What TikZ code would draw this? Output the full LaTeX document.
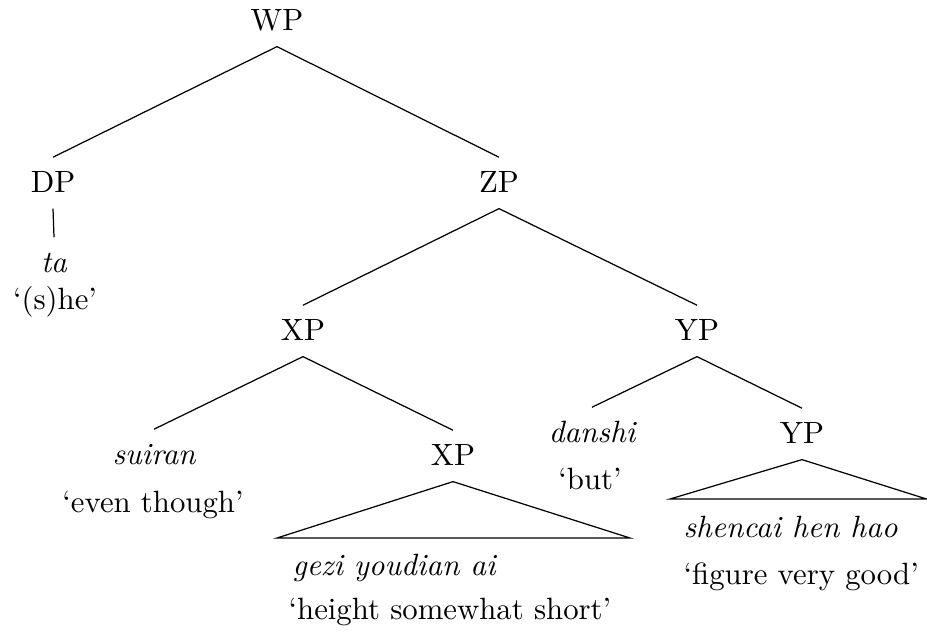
\documentclass[tikz,border=0pt]{standalone}
\begin{document}
\begin{tikzpicture}[x=0.325pt,y=-0.325pt,
  cat/.style={inner xsep=1pt, inner ysep=4.2pt, text height=6.9pt, text depth=1pt, anchor=base},
  word/.style={cat, font=\itshape},
  gloss/.style={inner sep=0pt, anchor=base},
  leftword/.style={inner sep=0pt, anchor=base west, font=\itshape},
  leftgloss/.style={inner sep=0pt, anchor=base west},
  branch/.style={line width=0.4pt}]
\useasboundingbox (0,0) rectangle (927,634);
% nodes
\node[cat] (WP) at (277,30) {WP};
\node[cat] (DP) at (53,192) {DP};
\node[cat] (ZP) at (499,192) {ZP};
\node[word] (ta) at (54,272) {ta};
\node[gloss] (she) at (55,309) {`(s)he'};
\node[cat] (XP) at (303,340) {XP};
\node[cat] (YP) at (697,340) {YP};
\node[word] (suiran) at (154,464) {suiran};
\node[gloss] (eventhough) at (153,512) {`even though'};
\node[cat] (XPl) at (453,465) {XP};
\node[word] (danshi) at (592,442) {danshi};
\node[gloss] (but) at (590,489) {`but'};
\node[cat] (YPl) at (802,443) {YP};
\node[leftword] (gezi) at (292,575) {gezi youdian ai};
\node[leftgloss] (height) at (288,619) {`height somewhat short'};
\node[leftword] (shencai) at (683,537) {shencai hen hao};
\node[leftgloss] (figure) at (683,584) {`figure very good'};
% triangle corners
\coordinate (XPtl) at (277,538);
\coordinate (XPtr) at (630,538);
\coordinate (YPtl) at (670,499);
\coordinate (YPtr) at (926.5,499);
% branches
\draw[branch] (WP.south) -- (DP.north);
\draw[branch] (WP.south) -- (ZP.north);
\draw[branch] (DP.south) -- (ta.north);
\draw[branch] (ZP.south) -- (XP.north);
\draw[branch] (ZP.south) -- (YP.north);
\draw[branch] (XP.south) -- (suiran.north);
\draw[branch] (XP.south) -- (XPl.north);
\draw[branch] (YP.south) -- (danshi.north);
\draw[branch] (YP.south) -- (YPl.north);
\draw[branch] (XPl.south) -- (XPtl) -- (XPtr) -- cycle;
\draw[branch] (YPl.south) -- (YPtl) -- (YPtr) -- cycle;
\end{tikzpicture}
\end{document}
